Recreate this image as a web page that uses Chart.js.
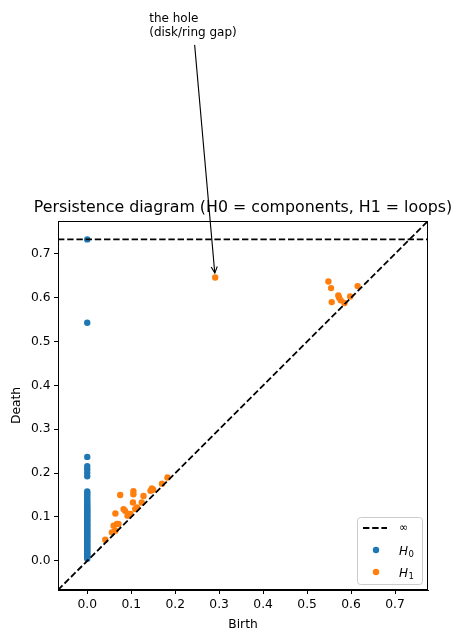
<!DOCTYPE html>
<html><head><meta charset="utf-8">
<script src="https://cdn.jsdelivr.net/npm/chart.js@4.4.1/dist/chart.umd.min.js"></script>
<style>html,body{margin:0;padding:0;background:#fff}#wrap{width:463px;height:642px}</style>
</head><body><div id="wrap"><canvas id="c" width="463" height="642"></canvas></div>
<script>
// ---- data ----
const axisLimits = [-0.0665, 0.775];
const tickValues = [0.0, 0.1, 0.2, 0.3, 0.4, 0.5, 0.6, 0.7];
const infDeath = 0.733;

const h0Deaths = [0.733, 0.543, 0.237, 0.216, 0.209, 0.201, 0.193, 0.158, 0.154, 0.150, 0.146,
  0.141, 0.137, 0.133, 0.129, 0.125, 0.122, 0.119, 0.116, 0.113, 0.110, 0.107, 0.104, 0.101,
  0.098, 0.095, 0.092, 0.089, 0.086, 0.083, 0.080, 0.077, 0.074, 0.071, 0.068, 0.065, 0.062,
  0.059, 0.056, 0.053, 0.050, 0.047, 0.044, 0.041, 0.038, 0.035, 0.032, 0.029, 0.026, 0.023,
  0.020, 0.017, 0.014, 0.011, 0.008, 0.005];
const h0Births = h0Deaths.map(() => 0.0);

const h1Births = [0.291, 0.5485, 0.5545, 0.556, 0.571, 0.573, 0.5765, 0.585, 0.598, 0.615,
  0.1825, 0.170, 0.147, 0.150, 0.144, 0.128, 0.124, 0.105, 0.105, 0.104, 0.075, 0.064, 0.0826,
  0.086, 0.094, 0.098, 0.109, 0.113, 0.0916, 0.0675, 0.071, 0.060, 0.0636, 0.056, 0.041];
const h1Deaths = [0.646, 0.637, 0.622, 0.590, 0.605, 0.600, 0.594, 0.588, 0.603, 0.6265,
  0.190, 0.176, 0.165, 0.162, 0.160, 0.148, 0.133, 0.159, 0.152, 0.133, 0.150, 0.108, 0.118,
  0.114, 0.107, 0.107, 0.118, 0.122, 0.103, 0.084, 0.084, 0.080, 0.0687, 0.065, 0.048];

const titleText = 'Persistence diagram (H0 = components, H1 = loops)';
const xLabel = 'Birth';
const yLabel = 'Death';
const annotLines = ['the hole', '(disk/ring gap)'];
const annotPoint = [0.291, 0.646];
const annotText = [0.141, 1.229];

const C_H0 = '#1f77b4', C_H1 = '#ff7f0e';
const FONT = 'DejaVu Sans';
const DASH = [6.4, 2.8];

const pts = (xs, ys) => xs.map((x, i) => ({x: x, y: ys[i]}));

const overlay = {
  id: 'overlay',
  afterDraw(chart) {
    const ctx = chart.ctx, ca = chart.chartArea;
    const xs = chart.scales.x, ys = chart.scales.y;
    ctx.save();
    // frame
    ctx.strokeStyle = '#000'; ctx.lineWidth = 1;
    ctx.strokeRect(Math.round(ca.left) + 0.5, Math.round(ca.top) + 0.5,
                   Math.round(ca.right - ca.left) - 1, Math.round(ca.bottom - ca.top) - 1);
    // title
    ctx.fillStyle = '#000';
    ctx.font = '15.8px "' + FONT + '"';
    ctx.textAlign = 'center'; ctx.textBaseline = 'alphabetic';
    ctx.fillText(titleText, (ca.left + ca.right) / 2, ca.top - 9);
    // annotation text
    ctx.font = '12px "' + FONT + '"';
    ctx.textAlign = 'left';
    const tx = xs.getPixelForValue(annotText[0]);
    const ty = ys.getPixelForValue(annotText[1]);
    annotLines.forEach((l, i) => ctx.fillText(l, tx, ty + i * 14));
    const tw = Math.max(...annotLines.map(l => ctx.measureText(l).width));
    // arrow
    const cx = tx + tw / 2, cy = ty + 4;
    const px = xs.getPixelForValue(annotPoint[0]), py = ys.getPixelForValue(annotPoint[1]);
    const dx = px - cx, dy = py - cy, len = Math.hypot(dx, dy);
    const ux = dx / len, uy = dy / len;
    const sy = ty + 14 + 9;
    const t0 = (sy - cy) / uy;
    const x0 = cx + ux * t0, y0 = sy;
    const x1 = px - ux * 4.5, y1 = py - uy * 4.5;
    ctx.strokeStyle = '#000'; ctx.lineWidth = 1.1;
    ctx.beginPath(); ctx.moveTo(x0, y0); ctx.lineTo(x1, y1); ctx.stroke();
    const hl = 7, ha = 0.45;
    const ang = Math.atan2(uy, ux);
    ctx.beginPath();
    ctx.moveTo(x1 - hl * Math.cos(ang - ha), y1 - hl * Math.sin(ang - ha));
    ctx.lineTo(x1, y1);
    ctx.lineTo(x1 - hl * Math.cos(ang + ha), y1 - hl * Math.sin(ang + ha));
    ctx.stroke();
    // legend
    const lw = 65, lh = 67;
    const lx = ca.right - 6 - lw, ly = ca.bottom - 6 - lh;
    ctx.fillStyle = 'rgba(255,255,255,0.8)';
    ctx.strokeStyle = '#cccccc'; ctx.lineWidth = 1;
    ctx.beginPath();
    if (ctx.roundRect) ctx.roundRect(lx + 0.5, ly + 0.5, lw, lh, 3); else ctx.rect(lx + 0.5, ly + 0.5, lw, lh);
    ctx.fill(); ctx.stroke();
    const r1 = ly + 11, r2 = ly + 33, r3 = ly + 55;
    ctx.strokeStyle = '#000'; ctx.lineWidth = 1.8; ctx.setLineDash(DASH);
    ctx.beginPath(); ctx.moveTo(lx + 6, r1); ctx.lineTo(lx + 30, r1); ctx.stroke();
    ctx.setLineDash([]);
    ctx.fillStyle = '#000';
    ctx.textBaseline = 'middle';
    ctx.font = '11px "' + FONT + '"';
    ctx.fillText('\u221E', lx + 42, r1);
    [[r2, C_H0, '0'], [r3, C_H1, '1']].forEach(([ry, col, sub]) => {
      ctx.fillStyle = col;
      ctx.beginPath(); ctx.arc(lx + 19, ry, 3.2, 0, Math.PI * 2); ctx.fill();
      ctx.fillStyle = '#000';
      ctx.font = 'italic 12px "' + FONT + '"';
      ctx.textBaseline = 'alphabetic';
      ctx.fillText('H', lx + 42, ry + 4.5);
      const hw = ctx.measureText('H').width;
      ctx.font = '8.5px "' + FONT + '"';
      ctx.fillText(sub, lx + 42 + hw + 0.5, ry + 7);
    });
    ctx.restore();
  }
};

const axisCommon = (titleTxt, isY) => ({
  type: 'linear',
  min: axisLimits[0], max: axisLimits[1],
  afterBuildTicks: s => { s.ticks = tickValues.map(v => ({value: v})); },
  afterFit: s => { if (isY) s.width = 58; else s.height = 52; },
  grid: {drawOnChartArea: false, color: '#000', tickLength: 4, tickWidth: 1, tickColor: '#000'},
  border: {display: true, color: '#000', width: 1},
  ticks: {color: '#000', padding: 3.5, font: {family: FONT, size: 12.3}, maxRotation: 0,
          callback: v => Number(v).toFixed(1)},
  title: {display: true, text: titleTxt, color: '#000', font: {family: FONT, size: 12.3},
          padding: isY ? {top: 9.6, bottom: 0} : {top: 0, bottom: 9.6}}
});

new Chart(document.getElementById('c'), {
  type: 'scatter',
  data: {
    datasets: [
      {label: 'diag', data: [{x: axisLimits[0], y: axisLimits[0]}, {x: axisLimits[1], y: axisLimits[1]}],
       showLine: true, borderColor: '#000', borderWidth: 1.8, borderDash: DASH, pointRadius: 0, fill: false},
      {label: '\u221E', data: [{x: axisLimits[0], y: infDeath}, {x: axisLimits[1], y: infDeath}],
       showLine: true, borderColor: '#000', borderWidth: 1.8, borderDash: DASH, pointRadius: 0, fill: false},
      {label: 'H1', data: pts(h1Births, h1Deaths), backgroundColor: C_H1, borderWidth: 0, pointRadius: 3.2},
      {label: 'H0', data: pts(h0Births, h0Deaths), backgroundColor: C_H0, borderWidth: 0, pointRadius: 3.2}
    ]
  },
  options: {
    responsive: false, animation: false, devicePixelRatio: 1,
    layout: {padding: {left: 0, right: 35, top: 221, bottom: 0}},
    plugins: {legend: {display: false}, tooltip: {enabled: false}, title: {display: false}},
    scales: {x: axisCommon(xLabel, false), y: axisCommon(yLabel, true)}
  },
  plugins: [overlay]
});
</script></body></html>
